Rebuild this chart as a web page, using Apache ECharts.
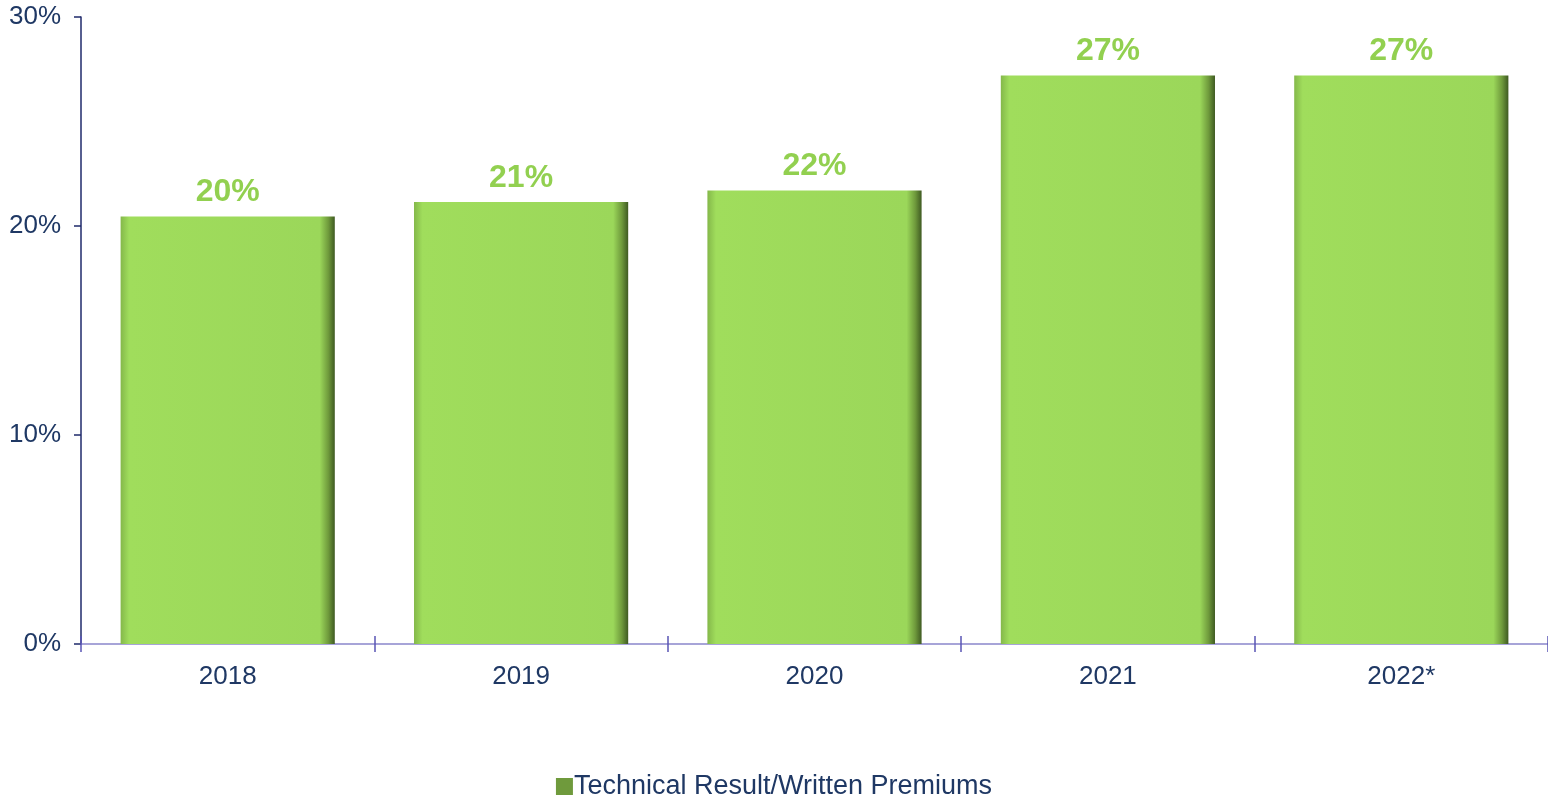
<!DOCTYPE html>
<html>
<head>
<meta charset="utf-8">
<script src="https://cdn.jsdelivr.net/npm/echarts@6/dist/echarts.min.js"></script>
<style>
  html, body { margin: 0; padding: 0; background: #fff; }
  #chart { width: 1548px; height: 798px; }
</style>
</head>
<body>
<div id="chart"></div>
<script>
const years = ['2018', '2019', '2020', '2021', '2022*'];
const ratio = [20.45, 21.15, 21.7, 27.2, 27.2];
const yTicks = [0, 10, 20, 30];
const seriesName = 'Technical Result/Written Premiums';

const myChart = echarts.init(document.getElementById('chart'));

// bevelled green bar look
const barFill = new echarts.graphic.LinearGradient(1, 0, 0, 0, [
  { offset: 0, color: '#3f5a22' },
  { offset: 0.03, color: '#6f9a3c' },
  { offset: 0.07, color: '#9bd75a' },
  { offset: 0.96, color: '#a0dd5c' },
  { offset: 1, color: '#84b84a' }
]);

const option = {
  animation: false,
  textStyle: { fontFamily: '"Liberation Sans", Arial, sans-serif' },
  grid: { left: 81, right: 0, top: 17, bottom: 154 },
  legend: {
    top: 768,
    left: 'center',
    itemWidth: 17,
    itemHeight: 17,
    icon: 'rect',
    itemGap: 4,
    itemStyle: { color: '#6f9a3c' },
    textStyle: { color: '#1f3864', fontSize: 27, padding: [0, 0, 0, -4], fontFamily: '"Liberation Sans", Arial, sans-serif' },
    data: [seriesName]
  },
  xAxis: [
    {
      type: 'category',
      data: years,
      axisLine: { show: true, lineStyle: { color: '#8a86cc', width: 1.5 } },
      axisTick: { show: true, length: 8, lineStyle: { color: '#5a55b5', width: 1.5 } },
      axisLabel: { color: '#1f3864', fontSize: 26, margin: 20, fontFamily: '"Liberation Sans", Arial, sans-serif' }
    },
    {
      type: 'category',
      data: years,
      position: 'bottom',
      axisLine: { show: false },
      axisTick: { show: true, inside: true, length: 8, lineStyle: { color: '#5a55b5', width: 1.5 } },
      axisLabel: { show: false }
    }
  ],
  yAxis: {
    type: 'value',
    min: yTicks[0],
    max: yTicks[yTicks.length - 1],
    interval: 10,
    splitLine: { show: false },
    axisLine: { show: true, lineStyle: { color: '#1f2a6b', width: 1.5 } },
    axisTick: { show: true, length: 7, lineStyle: { color: '#1f2a6b', width: 1.5 } },
    axisLabel: { color: '#1f3864', fontSize: 26, margin: 20, formatter: v => v + '%', fontFamily: '"Liberation Sans", Arial, sans-serif' }
  },
  series: [
    {
      name: seriesName,
      type: 'bar',
      data: ratio,
      barCategoryGap: '27%',
      itemStyle: {
        color: barFill
      },
      label: {
        show: true,
        position: 'top',
        distance: 8,
        color: '#92d050',
        fontSize: 32,
        fontWeight: 'bold',
        fontFamily: '"Liberation Sans", Arial, sans-serif',
        formatter: p => Math.round(p.value) + '%'
      }
    }
  ]
};

myChart.setOption(option);
</script>
</body>
</html>
